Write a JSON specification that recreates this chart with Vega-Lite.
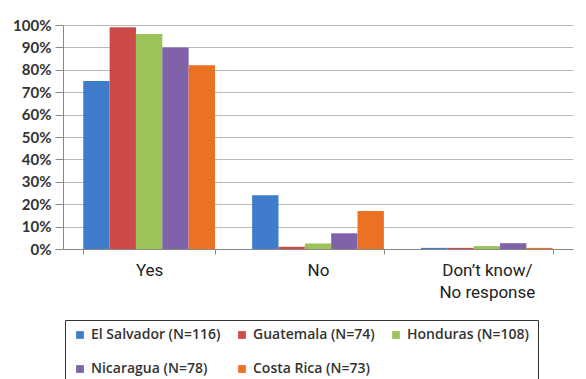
{
  "$schema": "https://vega.github.io/schema/vega-lite/v6.json",
  "width": 510,
  "height": 224,
  "autosize": {"type": "none"},
  "padding": {"left": 63, "top": 25, "right": 13, "bottom": 130},
  "background": "white",
  "data": {"values": [
    {"response": "Yes", "country": "El Salvador (N=116)", "pct": 0.75},
    {"response": "Yes", "country": "Guatemala (N=74)", "pct": 0.99},
    {"response": "Yes", "country": "Honduras (N=108)", "pct": 0.96},
    {"response": "Yes", "country": "Nicaragua (N=78)", "pct": 0.90},
    {"response": "Yes", "country": "Costa Rica (N=73)", "pct": 0.82},
    {"response": "No", "country": "El Salvador (N=116)", "pct": 0.24},
    {"response": "No", "country": "Guatemala (N=74)", "pct": 0.01},
    {"response": "No", "country": "Honduras (N=108)", "pct": 0.025},
    {"response": "No", "country": "Nicaragua (N=78)", "pct": 0.07},
    {"response": "No", "country": "Costa Rica (N=73)", "pct": 0.17},
    {"response": "Don’t know/ No response", "country": "El Salvador (N=116)", "pct": 0.005},
    {"response": "Don’t know/ No response", "country": "Guatemala (N=74)", "pct": 0.005},
    {"response": "Don’t know/ No response", "country": "Honduras (N=108)", "pct": 0.013},
    {"response": "Don’t know/ No response", "country": "Nicaragua (N=78)", "pct": 0.026},
    {"response": "Don’t know/ No response", "country": "Costa Rica (N=73)", "pct": 0.005}
  ]},
  "mark": {"type": "bar", "stroke": null},
  "encoding": {
    "x": {
      "field": "response", "type": "nominal",
      "sort": ["Yes", "No", "Don’t know/ No response"],
      "scale": {"paddingInner": 0.22, "paddingOuter": 0.12},
      "axis": {
        "title": null, "labelAngle": 0, "labelFont": "Roboto", "labelFontSize": 17,
        "labelColor": "#222", "labelPadding": 8, "labelLineHeight": 22,
        "labelExpr": "datum.value == 'Don’t know/ No response' ? ['Don’t know/', 'No response'] : datum.value",
        "domainColor": "#888", "tickColor": "#888", "tickSize": 5, "tickBand": "extent"
      }
    },
    "xOffset": {
      "field": "country", "type": "nominal",
      "sort": ["El Salvador (N=116)", "Guatemala (N=74)", "Honduras (N=108)", "Nicaragua (N=78)", "Costa Rica (N=73)"]
    },
    "y": {
      "field": "pct", "type": "quantitative",
      "scale": {"domain": [0, 1]},
      "axis": {
        "title": null, "format": ".0%", "values": [0,0.1,0.2,0.3,0.4,0.5,0.6,0.7,0.8,0.9,1],
        "labelOverlap": false, "labelFont": "Lato", "labelFontWeight": "bold", "labelFontSize": 15, "labelColor": "#333",
        "labelPadding": 4,
        "gridColor": "#bbb", "domainColor": "#888", "tickColor": "#888", "tickSize": 8
      }
    },
    "color": {
      "field": "country", "type": "nominal",
      "sort": ["El Salvador (N=116)", "Guatemala (N=74)", "Honduras (N=108)", "Nicaragua (N=78)", "Costa Rica (N=73)"],
      "scale": {"range": ["#3f7ccc", "#cc4a48", "#9cc25a", "#7f62a8", "#ea7222"]},
      "legend": {
        "title": null, "orient": "none", "legendX": 2, "legendY": 295,
        "direction": "horizontal", "columns": 3, "columnPadding": 14, "rowPadding": 20,
        "symbolType": "square", "symbolSize": 60, "symbolStrokeWidth": 0,
        "labelFont": "Open Sans", "labelFontWeight": 600, "labelFontSize": 14, "labelColor": "#333",
        "labelLimit": 300, "strokeColor": "#333", "padding": 8, "cornerRadius": 0
      }
    }
  },
  "config": {"view": {"stroke": null}}
}
